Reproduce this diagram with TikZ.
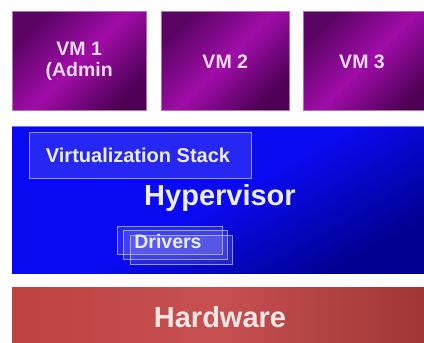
\documentclass[tikz,border=0pt]{standalone}
\usepackage{fontspec}
\setmainfont{Liberation Sans}
\begin{document}
\begin{tikzpicture}[x=1pt,y=1pt,
  vmbox/.style={draw=vmedge, line width=0.5pt,
    top color=vmdark, bottom color=vmdeep, middle color=vmmid, shading angle=45,
    minimum width=#1, minimum height=99pt, inner sep=0pt,
    text=vmtext, font=\bfseries\fontsize{19.5}{21}\selectfont, align=center},
  layer/.style={inner sep=0pt, minimum width=412pt},
  glassbox/.style={draw=glassedge, draw opacity=0.75, line width=0.8pt,
    fill=white, fill opacity=0.12, text opacity=1, inner sep=0pt},
  lbl/.style={text=paletext, font=\bfseries\fontsize{20}{22}\selectfont},
  biglbl/.style={text=paletext, font=\bfseries\fontsize{29}{32}\selectfont}]
\definecolor{vmdark}{HTML}{5A0464}
\definecolor{vmmid}{HTML}{A00CA8}
\definecolor{vmdeep}{HTML}{4E0056}
\definecolor{vmedge}{HTML}{B070B8}
\definecolor{vmtext}{HTML}{F2DCF2}
\definecolor{hvbright}{HTML}{0A0AF2}
\definecolor{hvdark}{HTML}{000090}
\definecolor{glassedge}{HTML}{B8C0FF}
\definecolor{paletext}{HTML}{ECECFF}
\definecolor{hwleft}{HTML}{BE4242}
\definecolor{hwmid}{HTML}{C65050}
\definecolor{hwright}{HTML}{A03636}
\definecolor{hwtext}{HTML}{F6E6E6}

\useasboundingbox (0,0) rectangle (424,343);
\fill[white] (0,0) rectangle (424,343);

% guest partitions
\node[vmbox=134pt, anchor=south west] (vm1) at (12,232) {VM 1\\(Admin};
\node[vmbox=128pt, anchor=south west] (vm2) at (161,232) {VM 2};
\begin{scope}
  \clip (0,0) rectangle (424,343);
  \node[vmbox=130pt, anchor=south west] (vm3) at (303,232) {};
\end{scope}
\node[text=vmtext, font=\bfseries\fontsize{19.5}{21}\selectfont] (vm3label) at (362,281.5) {VM 3};

% hypervisor layer
\begin{scope}
  \clip (0,0) rectangle (424,343);
  \node[layer, anchor=south west, minimum height=147pt,
    top color=hvbright, bottom color=hvdark, middle color=hvbright, shading angle=30] (hv) at (12,69) {};
  \draw[glassedge, draw opacity=0.6, line width=0.6pt] (hv.north west) -- (hv.north east);
\end{scope}
\node[glassbox, anchor=south west, minimum width=222pt, minimum height=46pt] (vstack) at (29,164) {};
\node[lbl] (vstacklabel) at (138,188) {Virtualization Stack};
\node[biglbl] (hvlabel) at (220,145) {Hypervisor};

% stacked driver boxes
\node[glassbox, anchor=south west, minimum width=102pt, minimum height=29pt] (drv3) at (130,78) {};
\node[glassbox, anchor=south west, minimum width=104pt, minimum height=29pt] (drv2) at (123,83) {};
\node[glassbox, anchor=south west, minimum width=105pt, minimum height=28pt] (drv1) at (117,88) {};
\node[lbl, font=\bfseries\fontsize{19.5}{21}\selectfont] (drvlabel) at (168,101) {Drivers};

% hardware layer
\begin{scope}
  \clip (0,0) rectangle (424,343);
  \node[layer, anchor=south west, minimum height=55pt,
    left color=hwleft, right color=hwright, middle color=hwmid] (hw) at (12,0) {};
\end{scope}
\node[text=hwtext, font=\bfseries\fontsize{29}{32}\selectfont] (hwlabel) at (220,26) {Hardware};
\end{tikzpicture}
\end{document}
